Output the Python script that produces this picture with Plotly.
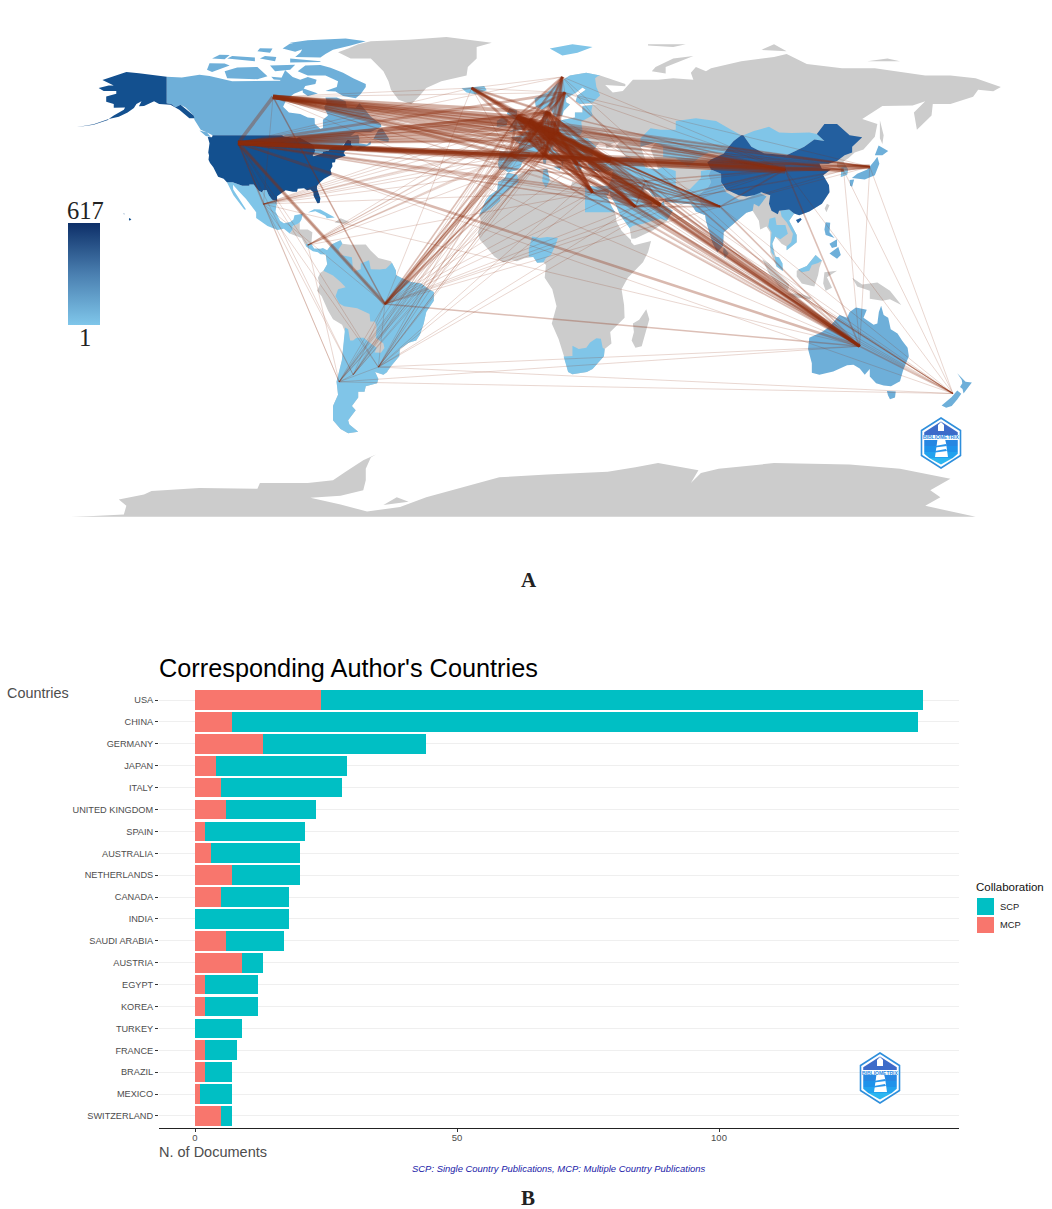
import itertools
import plotly.graph_objects as go

# ---- panel B data ----
countries = ['USA', 'CHINA', 'GERMANY', 'JAPAN', 'ITALY', 'UNITED KINGDOM', 'SPAIN', 'AUSTRALIA', 'NETHERLANDS',
             'CANADA', 'INDIA', 'SAUDI ARABIA', 'AUSTRIA', 'EGYPT', 'KOREA', 'TURKEY', 'FRANCE', 'BRAZIL',
             'MEXICO', 'SWITZERLAND']
mcp_docs = [24, 7, 13, 4, 5, 6, 2, 3, 7, 5, 0, 6, 9, 2, 2, 0, 2, 2, 1, 5]
scp_docs = [115, 131, 31, 25, 23, 17, 19, 17, 13, 13, 18, 11, 4, 10, 10, 9, 6, 5, 6, 2]

# ---- panel A outlines, (lon, lat) ----
usa_main = [(-124.7,48.4),(-123,48.3),(-122.8,49),(-95.2,49),(-94.6,48.7),(-92,48.3),(-89.6,48),(-88.4,48.3),(-84.9,46.9),(-84.5,46.5),(-83.5,46),(-82.5,45.3),(-82.1,43.6),(-82.5,42.6),(-83.1,42.1),(-82.7,41.7),(-79,42.8),(-79,43.3),(-76.8,43.6),(-76.3,44.2),(-75,45),(-71.5,45),(-70.8,45.4),(-70,46.7),(-69.2,47.45),(-68.3,47.35),(-67.8,47.1),(-67.8,45.7),(-67,44.9),(-69,44),(-70.2,43.6),(-70.8,42.8),(-70,41.8),(-71.4,41.4),(-74,40.6),(-74.2,39.6),(-75.4,39.4),(-75.2,38.2),(-76,36.9),(-75.5,35.3),(-77,34.6),(-78.5,33.8),(-80,32.6),(-81.3,31.3),(-81.4,30.4),(-80.5,28.4),(-80,26.8),(-80.3,25.3),(-81.2,25.2),(-81.8,26.2),(-82.7,27.8),(-82.8,29),(-84,30),(-85.3,29.7),(-86.5,30.4),(-89,30.3),(-89.3,29.2),(-91,29.2),(-93.8,29.7),(-95,29),(-97.2,27.6),(-97.2,25.95),(-99.2,26.4),(-100.5,28),(-101.4,29.8),(-102.7,29.7),(-103.2,29),(-104.5,29.6),(-106.5,31.75),(-108.2,31.78),(-108.2,31.33),(-111,31.33),(-114.8,32.5),(-117.1,32.5),(-118.4,33.8),(-120.6,34.5),(-121.9,36.6),(-122.5,37.8),(-123.8,39.3),(-124.4,40.4),(-124.2,42),(-124.5,43),(-124,46.2)]
alaska = [(-141,69.6),(-141,60.3),(-139,59.9),(-137.5,58.9),(-135.5,59.7),(-133.5,58.4),(-130.3,56),(-130,55),(-132,55),(-134,56.5),(-136,58),(-139.5,59.7),(-144,60),(-146,61),(-148,60),(-150,59.3),(-152,59.2),(-151,61),(-153,60),(-154,58.6),(-156.5,57),(-160,55.5),(-164,54.7),(-162,56),(-158,58),(-157.5,58.8),(-162,58.7),(-162,60),(-165,60.8),(-165,62.6),(-161,63.6),(-161,64.6),(-166,64.6),(-168,65.6),(-164,66.5),(-162,66.5),(-166.5,68.4),(-163,69.5),(-157,71.2),(-152,70.8),(-146,70.2)]
aleutians = [(-164,54.7),(-170,52.9),(-177,51.8),(-177,51.75),(-170,52.7),(-164.3,54.4)]
hawaii = [(-155.9,20),(-155,19.6),(-155.7,19),(-156,19.5)]
hawaii_west = [(-158.2,21.6),(-157.7,21.5),(-157.9,21.2)]
canada_main = [(-141,69.6),(-135,69.3),(-128,70.3),(-124,69.8),(-115,68),(-108,68),(-102,68),(-96,68.2),(-94,71.8),(-91,69.5),(-88,68.5),(-85,69.5),(-81.5,68.5),(-82,67),(-86,66.3),(-87,64.8),(-90.5,63.6),(-93.5,61.5),(-94.8,59),(-92.5,57),(-88,56.5),(-85,55.3),(-82.3,55),(-82.2,53),(-80,51.3),(-79,51.6),(-79,54.5),(-77,56),(-78.5,58.8),(-77.5,60.5),(-78,62.3),(-73.5,62.3),(-70,61),(-69.5,58.8),(-66,58.7),(-64.5,60.3),(-61.8,57.5),(-60,55.5),(-56,53),(-55.8,52),(-60,50.2),(-66,50.2),(-68,48.8),(-65,49.2),(-64.5,47.8),(-64.7,46.2),(-61.5,45.8),(-60,46.9),(-60,45.9),(-65.5,43.6),(-66.2,44.3),(-64.5,45.3),(-67,45),(-67.8,45.7),(-67.8,47.1),(-69.2,47.45),(-70,46.7),(-71.5,45),(-75,45),(-76.8,43.6),(-79,43.3),(-79,42.8),(-83,42),(-82.1,43.6),(-82.5,45.3),(-84.5,46.5),(-88.4,48.3),(-92,48.3),(-95.2,49),(-122.8,49),(-125,50),(-127.5,51),(-130,54.5),(-130,55),(-130.3,56),(-133.5,58.8),(-135.5,59.7),(-137.5,58.9),(-139,59.9),(-141,60.3)]
baffin = [(-62,66),(-64,63.5),(-66,62),(-71,62.8),(-74,64.4),(-78,64.6),(-73.5,66),(-73,68),(-78,70),(-85,70),(-89,71.5),(-86,73.5),(-80,73.7),(-76,72.7),(-71,71),(-67,69),(-62,67)]
victoria_isl = [(-117,69),(-105,68.7),(-101,69.7),(-105,73),(-113,72.8),(-118,71.5)]
banks_isl = [(-125,72),(-123,71.2),(-119,72.5),(-116,73.5),(-118,74.2),(-124,74.3)]
ellesmere = [(-90,76.5),(-80,76.3),(-78,77.5),(-75,79),(-68,80.5),(-62,82),(-70,83),(-85,82.4),(-92,81.5),(-87,79.5),(-88,78)]
devon_isl = [(-92,76),(-80,75),(-80,74.7),(-92,74.6)]
melville_isl = [(-117,76),(-106,75),(-106,76.3),(-115,76.8)]
prince_patrick = [(-123,76),(-118,75.7),(-116,77.2),(-120,77.3)]
bathurst_isl = [(-104,76),(-98,75),(-97.5,76.5),(-102,76.8)]
ringnes_isl = [(-105,78.5),(-100,78),(-99,79.5),(-104,79.6)]
somerset_isl = [(-100,73.5),(-90,73.8),(-92,72),(-98,71.5)]
king_william = [(-99.5,69.6),(-95,69.2),(-95.5,68.4),(-98.5,68.6)]
southampton_isl = [(-87,65.5),(-81,63.7),(-85,62.8),(-87,64)]
newfoundland = [(-59,47.7),(-53,46.7),(-52.8,47.8),(-55.5,51.5),(-57,51)]
axel_isl = [(-95,79.5),(-90,78.3),(-85,79.8),(-92,81.2)]
vancouver_isl = [(-128,50.7),(-125,50),(-123.5,48.4),(-125.5,48.8)]
greenland = [(-73,78.2),(-68,76),(-60,76),(-55,71.5),(-53,68),(-52,65),(-49,61.5),(-44,59.9),(-41,62.5),(-38,65.6),(-32,68),(-22,70),(-21.5,73),(-18,76),(-18,80),(-12,81.5),(-30,83.5),(-45,82.5),(-60,82),(-65,81),(-69,79.5)]
mexico = [(-117.1,32.5),(-114.8,32.5),(-111,31.33),(-108.2,31.33),(-108.2,31.78),(-106.5,31.75),(-104.5,29.6),(-103.2,29),(-102.7,29.7),(-101.4,29.8),(-100.5,28),(-99.2,26.4),(-97.2,25.95),(-97.8,22.3),(-96,19),(-94.5,18.2),(-92,18.6),(-90.7,19.5),(-90.3,21),(-87,21.5),(-87.5,19.5),(-88.2,18.4),(-89.1,17.9),(-91,17.2),(-91,16),(-92.2,14.6),(-94.5,16.2),(-97,15.8),(-101,17.2),(-105.5,20),(-105.5,22),(-108,25),(-109.5,26.7),(-112.5,29.5),(-114.7,31.7),(-114.6,30),(-112,26.5),(-110,24),(-109.5,23),(-110.2,23),(-112.3,25.5),(-114.5,28),(-115.8,30.3)]
central_america = [(-92.2,14.6),(-91,16),(-91,17.2),(-89.1,17.9),(-88.2,18.4),(-88.2,16),(-85,16),(-83.2,15),(-83.6,11),(-85.7,11),(-85.7,10),(-87.5,13),(-90,13.8)]
costa_panama = [(-83.6,11),(-82.5,9.3),(-80,9.2),(-79,9.5),(-77.3,8.7),(-77.9,7.2),(-80,7.3),(-81,8),(-83,8.3),(-85.7,10),(-85.7,11)]
cuba = [(-84.9,21.9),(-82.5,23.1),(-80,23),(-75,20.7),(-74.3,20.2),(-77.5,19.9),(-78,20.7),(-82,22.4)]
hispaniola = [(-74.4,18.4),(-72,19.9),(-68.4,18.6),(-71,18)]
south_america = [(-77.3,8.7),(-75.6,10.7),(-72,12.2),(-71.3,11),(-68,10.6),(-62,10.7),(-60,8.5),(-57,6),(-52,4.8),(-50,1.5),(-50,0),(-48,-1),(-44,-2.5),(-40,-3),(-37,-5),(-35,-6),(-35,-9),(-38,-13),(-39,-17),(-40.5,-21),(-42,-23),(-45,-23.8),(-48.5,-26),(-48.7,-28.5),(-52,-32),(-53.5,-34),(-55,-35),(-58.3,-34),(-57,-36.5),(-57.5,-38),(-62,-39),(-62.5,-41),(-65,-41),(-65,-43),(-67.5,-46),(-66,-47.5),(-69,-51),(-68.5,-52.5),(-65,-55),(-69,-55.5),(-72,-54),(-75,-51),(-75,-46),(-73,-42),(-73.6,-37.5),(-71.5,-30),(-70.2,-20),(-71.4,-17.5),(-75,-15.5),(-77,-12.5),(-79.5,-7.5),(-81.3,-5.5),(-80.3,-3.4),(-81,-1),(-80,0.8),(-78.8,1.5),(-77.3,3.8),(-77.5,6),(-77.9,7.2)]
brazil = [(-51.6,4.3),(-50,1.5),(-50,0),(-48,-1),(-44,-2.5),(-40,-3),(-37,-5),(-35,-6),(-35,-9),(-38,-13),(-39,-17),(-40.5,-21),(-42,-23),(-45,-23.8),(-48.5,-26),(-48.7,-28.5),(-52,-32),(-53.4,-33.7),(-53.2,-32.5),(-57.6,-30.2),(-53.8,-27),(-54.6,-25.6),(-55,-24),(-58,-22),(-57.7,-18),(-58.4,-16.3),(-60.2,-16.3),(-60.5,-13.7),(-65.4,-11.7),(-69.5,-11),(-70.6,-11),(-72.5,-10),(-74,-7.5),(-73,-5),(-70,-4.3),(-69.5,-1),(-70,1.7),(-67,1.2),(-64,2),(-64,4),(-60.7,5.2),(-60,2),(-56.5,1.9),(-54,2.2)]
colombia = [(-77.3,8.7),(-75.6,10.7),(-72,12.2),(-71.3,11),(-72.8,9),(-72,7),(-67.5,6.2),(-67,1.2),(-70,1.7),(-69.5,-1),(-70,-4.3),(-72,-2.5),(-75,-0.2),(-78.8,1.5),(-77.3,3.8),(-77.5,6),(-77.9,7.2)]
southern_cone = [(-70.2,-18.4),(-69,-19),(-68.2,-23),(-67,-23),(-65.7,-22),(-62.8,-22),(-60,-24),(-57.7,-25.5),(-58.5,-27.2),(-56,-27.3),(-54.6,-25.6),(-53.8,-27),(-57.6,-30.2),(-53.2,-32.5),(-53.5,-34),(-55,-35),(-58.3,-34),(-57,-36.5),(-57.5,-38),(-62,-39),(-62.5,-41),(-65,-41),(-65,-43),(-67.5,-46),(-66,-47.5),(-69,-51),(-68.5,-52.5),(-65,-55),(-69,-55.5),(-72,-54),(-75,-51),(-75,-46),(-73,-42),(-73.6,-37.5),(-71.5,-30),(-70.2,-20)]
africa = [(-5.9,35.8),(-2,35.2),(3,36.8),(10,37.3),(11,33.3),(15,32.4),(19,30.3),(20,32.7),(25,31.6),(29,31),(32.3,31.2),(34.2,31.3),(32.6,29.9),(34,27),(35.5,24),(37.2,21),(37.5,18.7),(39.5,15.5),(43.2,12.3),(43.3,11.5),(44.5,10.4),(51.2,11.9),(50,8),(48,4.5),(42,-1),(39.5,-5),(40.5,-10.5),(40.7,-15),(35,-20),(35.5,-24),(32.8,-26),(32.5,-28.5),(28,-33),(25.7,-34),(20,-34.8),(18.3,-34),(17,-29.5),(14.5,-22.5),(11.8,-17),(13.7,-11),(12,-5),(9,-1),(9.5,3.5),(8.5,4.5),(6,4.3),(4.5,6.3),(1,5.9),(-2,4.8),(-4,5.2),(-7.5,4.4),(-11,6.5),(-13.3,9),(-16.7,12.4),(-17.5,14.7),(-16.3,19),(-17,21),(-14.5,26),(-13,27.8),(-9.8,29.8),(-9.5,32.5),(-6.8,34)]
madagascar = [(49.3,-12),(50.5,-15.5),(47.5,-25),(45,-25.5),(43.5,-23),(44.4,-20),(44,-17),(46.5,-15.7)]
egypt = [(25,31.6),(29,31),(32.3,31.2),(34.2,31.3),(34.9,29.5),(34,27.9),(33,28.5),(34,27),(35.5,24),(37,22),(25,22)]
nigeria = [(2.7,6.4),(4.5,6.3),(6,4.3),(8.5,4.5),(9.5,6),(11.5,7),(13.5,11),(14.2,13),(10,13.3),(7,13),(4,13.5),(3.6,11.7),(2.7,9)]
south_africa = [(16.5,-28.6),(20,-28.4),(20,-24.8),(22.5,-26),(25.5,-25.5),(27,-23.7),(29.5,-22.2),(31.3,-22.4),(32,-25.5),(32.8,-26),(32.5,-28.5),(28,-33),(25.7,-34),(20,-34.8),(18.3,-34),(17,-29.5)]
morocco = [(-5.9,35.8),(-2,35.2),(-1.2,32.5),(-5,30),(-8.7,27.7),(-8.7,26),(-13,23),(-17,21),(-14.5,26),(-13,27.8),(-9.8,29.8),(-9.5,32.5),(-6.8,34)]
tunisia = [(8.5,37),(10,37.3),(11,33.3),(9.5,30.5),(8,33)]
eurasia = [(-9,37),(-9.5,38.8),(-8.8,43.3),(-1.8,43.4),(-1,46),(-4.5,48.3),(-1.5,48.7),(1.5,50.5),(3.5,51.4),(4.8,53),(8,53.6),(8.5,57),(10.6,57.7),(10.2,55),(11,54),(14,54),(18.5,54.8),(21,55.3),(21,57),(24,57),(24,59.3),(28,59.6),(30,60),(23,60),(21.3,61),(22,63),(25.3,65),(24,65.8),(21.5,64),(17.5,62),(17.5,60.6),(19,59.8),(16.5,57.5),(16,56),(13,55.4),(11.5,58),(10.5,59.3),(8,58),(5.5,59),(5,62),(10,64),(14.5,67.5),(19,70),(25.5,71),(31,70),(41,67),(41,66.2),(33,66.7),(36,64),(40,64.6),(44,68.5),(54,68.5),(60,69),(68,68.5),(67,71),(69,73),(73,71.5),(75,72.5),(80,73.5),(87,75),(100,76.5),(105,77.5),(113,74),(127,72.5),(140,72.5),(160,70),(170,70),(180,69),(190,66),(187,64.5),(181,65),(179,62.5),(170,60),(163,60),(162.5,56),(156.7,51),(155.5,57),(160,61),(155,59.5),(143,59.3),(135,54.7),(141,53),(140,48.5),(135.5,44),(132,43),(129.5,41),(127.5,39.8),(129.4,37),(129,35.2),(126.5,34.4),(126.7,37),(125,38),(125,39.6),(121.5,39),(118,39),(119,37.3),(122.5,37),(119.5,35),(121.8,31.5),(122,29),(119,25),(114,22.3),(110,21),(108,21.6),(106,19),(109,14),(109,11.5),(105,8.7),(105,10),(103,11),(100.5,13.5),(99.3,11),(100.5,7),(103.5,1.4),(101,3),(98.5,8),(98.5,15),(97,17),(94.5,16),(94,19),(91.5,22.5),(89,21.8),(86.5,20),(82,16.5),(80,15),(79.8,10.3),(77.5,8),(75.5,11.5),(73,19),(72.7,21),(69,22.3),(67,24.8),(61.5,25.2),(57,25.7),(56.5,27),(52,27.5),(50,30),(48,30),(50,26.5),(51.5,25.5),(51.5,24.2),(54,24.2),(56.3,26),(56.5,24.5),(59.8,22.5),(57.5,19),(55,17.5),(52,15.7),(45,12.8),(43.4,12.7),(42.7,16.5),(39,21),(37,25),(35,28),(34.9,29.5),(34.2,31.3),(35.5,33.5),(36,36.7),(32,36.1),(28,36.7),(26.3,38.5),(26.3,40),(29,41),(33,42),(38,41),(41.5,41.5),(37,45),(39,47),(35,46),(36.5,45.2),(33.5,44.5),(33,46),(30.7,46.5),(28,43.5),(28,41.7),(26.2,40.8),(23.5,40.3),(22.8,39.5),(24,38),(23,36.5),(21.5,37),(20,39.7),(19.3,41.8),(15,44),(13.7,45.5),(12.3,45),(12.5,44),(16,41.8),(18.4,40),(16.5,40),(16,38),(15.6,40),(12.5,41.5),(10.5,43),(8.5,44.4),(6,43),(3.2,43),(3,41.8),(0,39.5),(-0.5,38),(-2,36.8),(-5.5,36),(-7,37)]
caspian = [(47,45),(53,46.5),(51,44),(53,40),(54,37),(50,37.3),(49,40.5)]
aral = [(58.5,46),(61,46),(60,44),(58.5,44)]
scandinavia = [(30,69.7),(31,70),(25.5,71),(19,70),(14.5,67.5),(10,64),(5,62),(5.5,59),(8,58),(10.5,59.3),(11.5,58),(13,55.4),(16,56),(16.5,57.5),(19,59.8),(17.5,60.6),(17.5,62),(21.5,64),(24,65.8),(25.3,65),(22,63),(21.3,61),(23,60),(28,60.5),(31,63),(29.5,66),(29,69)]
west_europe = [(-9,37),(-9.5,38.8),(-8.8,43.3),(-1.8,43.4),(-1,46),(-4.5,48.3),(-1.5,48.7),(1.5,50.5),(3.5,51.4),(4.8,53),(8,53.6),(8.5,57),(10.6,57.7),(10.2,55),(11,54),(14,54),(18.5,54.8),(21,55.3),(21,57),(24,57),(24,59.3),(28,59.6),(27.5,57.5),(28,56),(23.5,53.9),(24,50.5),(22.5,48.3),(26,48),(29.4,45),(28,43.5),(28,41.7),(26.2,40.8),(23.5,40.3),(22.8,39.5),(24,38),(23,36.5),(21.5,37),(20,39.7),(19.3,41.8),(15,44),(13.7,45.5),(12.3,45),(12.5,44),(16,41.8),(18.4,40),(16.5,40),(16,38),(15.6,40),(12.5,41.5),(10.5,43),(8.5,44.4),(6,43),(3.2,43),(3,41.8),(0,39.5),(-0.5,38),(-2,36.8),(-5.5,36),(-7,37)]
britain = [(-5.5,50),(1.5,51.2),(1.5,52.8),(0,53.5),(-2,56),(-2,57.7),(-5,58.6),(-6,56.5),(-3,54.5),(-5,52),(-3,51.4)]
ireland = [(-10,52),(-6.2,52.2),(-5.6,54.6),(-8,55.3),(-10,54)]
iceland = [(-24,65.5),(-22,64),(-18.5,63.4),(-14,64.8),(-15,66.3),(-20,66)]
svalbard = [(11,79.5),(16,77),(22,78),(28,80),(20,81)]
sicily = [(12.5,38),(15.6,38.2),(15,36.7)]
sardinia = [(8.2,41),(9.7,41),(9.5,39),(8.5,39)]
turkey = [(26.3,38.5),(26.3,40),(29,41),(33,42),(38,41),(41.5,41.5),(43.5,41),(44.5,39.7),(44.5,37.2),(42,37.2),(36.5,36.6),(36,36.7),(32,36.1),(28,36.7)]
iran = [(44.5,39.7),(48,39.5),(49,37.5),(54,37),(56,38),(61,36.5),(61,31.5),(63,27),(61.5,25.2),(57,25.7),(56.5,27),(52,27.5),(50,30),(48,30),(46,33),(45,36),(44.5,37.2)]
iraq_levant = [(36,36.7),(36.5,36.6),(42,37.2),(44.5,37.2),(45,36),(46,33),(48,30),(47,29),(44,29),(39,32),(34.9,29.5),(34.2,31.3),(35.5,33.5)]
saudi = [(34.9,29.5),(39,32),(44,29),(47,29),(48,30),(50,26.5),(51.5,25.5),(51.5,24.2),(54,24.2),(56.3,26),(56.5,24.5),(59.8,22.5),(57.5,19),(55,19.7),(52,19),(48,18),(44,17.3),(42.7,16.5),(39,21),(37,25),(35,28)]
kazakhstan = [(47,45),(47,48),(51,51.5),(55,51),(61,51),(61,54),(69,55),(77,54),(83,51),(87,49),(84,47),(82,45),(80,42.5),(74,43),(70,41),(66,38),(61,41),(56,41.3),(56,45),(53,46.5)]
mongolia = [(87.8,49),(92,50.5),(98,52),(102,50),(107,49.8),(114,50),(117,49.5),(120,47),(116,47.5),(112,45),(105,42),(96,42.7),(91,45)]
china = [(73.5,39.5),(75,40.5),(80,42.5),(82,45),(84,47),(87,49),(87.8,49),(91,45),(96,42.7),(105,42),(112,45),(116,47.5),(120,47),(117,49.5),(120,53),(125,53),(130,49),(135,48.3),(131,45),(131,43),(128,42),(125,40),(121.5,39),(118,39),(119,37.3),(122.5,37),(119.5,35),(121.8,31.5),(122,29),(119,25),(114,22.3),(110,21),(108,21.6),(106,23),(102,22.5),(101.5,21.3),(99,22.5),(98,25),(98.5,28),(95,29),(92,28),(89,27.5),(86,28),(81,30),(79,32.5),(79,35.5),(75,37)]
hainan = [(108.7,19.3),(110.5,20),(111,19.5),(109.5,18.2)]
pakistan = [(61,31.5),(63,27),(61.5,25.2),(67,24.8),(68,23.7),(71,24.5),(70,28),(74,31),(75,32.5),(74,35),(75,37),(71,36.5),(71,34),(66.5,30),(63,29.5)]
india = [(68,23.7),(69,22.3),(72.7,21),(73,19),(75.5,11.5),(77.5,8),(79.8,10.3),(80,15),(82,16.5),(86.5,20),(89,21.8),(91.5,22.5),(92,25),(94,24),(97,27.5),(94,29),(92,28),(88,26.5),(86,26.5),(81,29),(79,32.5),(79,35.5),(75,37),(74,35),(75,32.5),(74,31),(70,28),(71,24.5)]
sri_lanka = [(80,9.8),(82,7.5),(80.5,6),(79.8,8)]
thailand = [(98.2,19.7),(100.5,20.3),(101,17.5),(104.5,17.5),(105.5,14.5),(102.5,12.5),(100.5,13.5),(99.3,11),(100.2,6.5),(99,8),(98.5,10),(99,15),(97.7,17)]
vietnam = [(102.5,22.5),(106,23),(108,21.6),(106,19),(109,14),(109,11.5),(105,8.7),(105,10),(106.8,11.5),(107.5,14.5),(105,18.5),(103,20.5)]
malaya = [(100.2,6.5),(102,6.2),(103.4,4),(103.5,1.4),(101,3)]
south_korea = [(126.5,34.4),(129,35.2),(129.4,37),(128.3,38.5),(126.7,37.8)]
novaya_zemlya = [(51.5,71.5),(57,70.7),(57,73),(68,76.8),(60,76),(53,73)]
severnaya = [(95,79),(105,78.5),(100,81)]
new_siberian = [(137,75),(150,75),(145,76)]
franz_josef = [(50,80.5),(60,80),(65,81),(50,81)]
sakhalin = [(142,54.3),(143.5,49),(143,46),(142,48)]
honshu = [(130.9,34),(136,33.5),(140,35),(141.8,39),(141,41.5),(139.8,40),(137,37),(133,35.5)]
hokkaido = [(140,42),(141.5,45.4),(145.3,43.5),(143,42)]
kyushu = [(130,33.3),(131.8,33.5),(131,31),(130.2,31.3)]
taiwan = [(121,25),(122,24.5),(120.8,22),(120.1,23.3)]
luzon = [(120.5,18.5),(122.3,18.3),(122,15),(124,13),(120.5,14),(120,16)]
mindanao = [(122,7.5),(125.5,9.8),(126.5,7),(125,5.7)]
visayas = [(122,11),(125,12.5),(125,10),(123,9.5)]
borneo = [(109,1.5),(113,3.2),(116.5,7),(119,5),(118,2.5),(117.5,0),(116,-4),(111,-3),(109,-0.5)]
malay_borneo = [(109.6,1.9),(113,3.2),(116.5,7),(119,5),(117.5,4.2),(115,3.5),(114,1.5),(111,1)]
sumatra = [(95.3,5.5),(98,4),(104,-1.5),(106,-3.3),(105.5,-5.8),(102,-4),(98,0.5)]
java = [(105.3,-6.5),(110,-6.5),(114.5,-7.8),(114.5,-8.6),(108,-7.8)]
sulawesi = [(120,1),(125,1.5),(121,-0.8),(123,-4.5),(120.5,-5.5),(119.5,-3)]
new_guinea = [(131,-1),(135,-3.3),(141,-2.6),(146,-5.5),(150.5,-10.5),(146,-8.5),(143,-9),(138,-8.3),(138,-5.5),(133,-4)]
australia = [(114,-22),(113.5,-26),(115,-31),(115,-34.3),(118,-35),(123.5,-33.9),(129,-31.7),(131.5,-31.5),(134,-32.8),(136,-35),(138,-33),(138,-35.6),(140.5,-38),(143.5,-38.8),(146.4,-39),(150,-37.3),(151.2,-33.5),(153.5,-28.5),(153,-25.5),(150.8,-23),(149,-20.5),(146.3,-19),(145.3,-15),(143.5,-14),(142.5,-10.8),(141.6,-13),(141,-17),(139.5,-17.5),(135.5,-15),(136.8,-12.2),(132.5,-11.4),(130,-13),(129,-15),(126,-14),(122.2,-18),(119,-20)]
tasmania = [(144.8,-40.7),(148.3,-40.9),(148,-43),(146,-43.6),(145.2,-42.2)]
nz_north = [(172.7,-34.5),(174.5,-36),(176,-37.5),(178.5,-37.7),(177,-39.5),(176,-41),(175.2,-41.6),(174.8,-40),(173.8,-39.3),(174.7,-38),(174.5,-36.8)]
nz_south = [(172.7,-40.5),(174.3,-41.7),(172.7,-43.7),(170.5,-46),(168.3,-46.6),(166.5,-45.8),(170.5,-42.8)]
antarctica = [(-179,-84.8),(-170,-84.6),(-158,-84),(-157,-81),(-160,-78.8),(-150,-77),(-147,-75.8),(-128,-74.7),(-105,-75),(-104,-73),(-85,-73),(-75,-72),(-70,-69),(-63,-65),(-58,-63),(-60,-64),(-62,-68),(-62,-72),(-63,-75.5),(-72,-77.5),(-84,-78.2),(-72,-80.5),(-61.5,-83),(-48.4,-81.4),(-38,-78),(-26,-75),(-14,-72),(-9,-71),(10,-70),(34,-69),(45,-67.5),(54,-66),(70,-68.5),(67,-73),(71,-69.5),(78,-68),(100,-66),(130,-66.5),(150,-68),(170,-71.5),(162,-75.5),(166,-78),(160,-81),(180,-84.8)]
berkner_isl = [(-55,-80.7),(-49.7,-78),(-45,-79.6)]

grey_land = [greenland, central_america, hispaniola, south_america, africa, madagascar, eurasia,
             novaya_zemlya, severnaya, new_siberian, franz_josef, sakhalin, taiwan, borneo, sumatra, java,
             sulawesi, new_guinea, antarctica, berkner_isl]
water = [caspian, aral]
light_blue = [mexico, costa_panama, cuba, brazil, colombia, southern_cone, egypt, nigeria, south_africa, morocco,
              tunisia, scandinavia, west_europe, britain, ireland, iceland, svalbard, sicily, sardinia, turkey, iran,
              iraq_levant, saudi, kazakhstan, mongolia, pakistan, sri_lanka, thailand, vietnam, malaya, malay_borneo,
              south_korea]
mid_blue = [canada_main, baffin, victoria_isl, banks_isl, ellesmere, devon_isl, melville_isl, prince_patrick,
            bathurst_isl, ringnes_isl, somerset_isl, king_william, southampton_isl, newfoundland, axel_isl,
            vancouver_isl, india, honshu, hokkaido, kyushu, luzon, mindanao, visayas, australia, tasmania, nz_north,
            nz_south]
usa_shapes = [usa_main, alaska, aleutians, hawaii, hawaii_west]
china_shapes = [china, hainan]

# ---- collaboration network ----
node_names = ['USA', 'Canada', 'Mexico', 'Costa Rica', 'Brazil', 'Chile', 'Argentina', 'Uruguay', 'Iceland', 'Norway',
              'Sweden', 'UK', 'Denmark', 'Netherlands', 'Germany', 'Poland', 'France', 'Spain', 'Italy', 'Austria',
              'Greece', 'Turkey', 'Egypt', 'Saudi Arabia', 'Iran', 'UAE', 'India', 'China', 'Korea', 'Japan',
              'Australia', 'New Zealand']
node_lon = [-112.6, -98.8, -102.6, -85, -54.4, -72.6, -67, -57, -20, 16, 17, -2, 10.3, 3, 7, 14, 3, -4.8, 9, 12,
            22, 35, 28, 45, 49, 55, 78.6, 104.4, 127.6, 138, 134, 171]
node_lat = [46.3, 62.5, 24.9, 10.5, -10.2, -37.5, -35, -32.3, 65.6, 69.5, 64, 55.4, 57, 54, 52, 50, 47, 42, 42, 48,
            39, 40, 29, 24, 33, 24.5, 24, 37, 36.8, 38, -25, -41.6]

europe_core = ['UK', 'Netherlands', 'Germany', 'Poland', 'Austria', 'Italy', 'Denmark']
europe_outer = ['France', 'Spain', 'Sweden', 'Norway', 'Greece', 'Iceland']
gulf = ['Turkey', 'Egypt', 'Saudi Arabia', 'Iran', 'UAE']

# hub, partners, weight
link_groups = [
    ('USA', ['China'], 5),
    ('USA', ['Germany', 'UK', 'Italy', 'Netherlands', 'Turkey'], 5),
    ('USA', ['Japan', 'Korea', 'Spain', 'Canada', 'Poland', 'Austria'], 4),
    ('USA', ['Australia', 'Denmark', 'France', 'Sweden', 'Greece'], 3),
    ('USA', ['Mexico', 'Brazil', 'Saudi Arabia', 'India', 'Iran', 'Egypt'], 2),
    ('USA', ['Chile', 'Argentina', 'UAE', 'Norway', 'Costa Rica', 'Iceland', 'New Zealand', 'Uruguay'], 1),
    ('Canada', ['Germany', 'UK', 'Netherlands'], 5),
    ('Canada', ['Italy', 'Spain', 'France', 'Austria', 'Denmark', 'Poland'], 4),
    ('Canada', ['China', 'Turkey', 'Greece'], 2),
    ('Canada', ['Brazil', 'Mexico', 'Japan', 'Australia', 'Sweden', 'Saudi Arabia', 'India', 'Iran', 'Egypt',
                'Iceland', 'Korea'], 1),
    ('China', ['Japan'], 5),
    ('China', ['Turkey'], 7),
    ('China', ['Germany', 'Korea', 'UK', 'Italy', 'Netherlands'], 3),
    ('China', ['Saudi Arabia', 'India', 'Iran', 'Australia', 'Austria', 'Poland', 'France', 'Spain', 'Denmark'], 2),
    ('China', ['Egypt', 'UAE', 'Sweden', 'Norway', 'Greece', 'Brazil'], 1),
    ('Japan', ['Germany', 'UK', 'Italy', 'Netherlands', 'Korea'], 2),
    ('Japan', ['Australia', 'Poland', 'Austria', 'Spain', 'France', 'Turkey', 'India', 'Saudi Arabia', 'Sweden'], 1),
    ('Korea', ['Germany', 'UK', 'Australia', 'Spain', 'India', 'Saudi Arabia'], 1),
    ('Turkey', ['Germany', 'Poland', 'Austria', 'Italy', 'UK', 'Netherlands'], 4),
    ('UAE', ['Germany', 'Poland', 'Austria', 'Italy', 'UK', 'Netherlands', 'Denmark'], 4),
    ('UAE', ['Saudi Arabia', 'Egypt', 'Iran', 'Turkey', 'Greece', 'France', 'Spain'], 2),
    ('Saudi Arabia', ['Germany', 'UK', 'Italy', 'Egypt', 'Poland', 'Iran', 'India', 'Spain'], 2),
    ('Egypt', ['Germany', 'UK', 'Italy', 'Austria', 'Poland', 'Netherlands', 'India', 'Iran', 'Greece'], 2),
    ('India', ['Germany', 'UK', 'Netherlands', 'Italy', 'Austria', 'Iran', 'Spain', 'France'], 2),
    ('Australia', ['UAE'], 4),
    ('Australia', ['Germany', 'UK', 'Netherlands', 'Italy', 'Austria', 'Poland', 'Saudi Arabia', 'Turkey'], 3),
    ('Australia', ['Denmark', 'France', 'Spain', 'Sweden', 'Iran', 'Egypt', 'India', 'New Zealand', 'Brazil'], 2),
    ('Australia', ['Norway', 'Greece', 'Mexico', 'Chile'], 1),
    ('New Zealand', ['Germany', 'UK', 'Netherlands', 'Italy', 'Austria', 'Denmark', 'Spain', 'Poland', 'UAE', 'Egypt',
                     'China', 'Japan', 'Korea', 'Chile', 'Uruguay', 'India'], 1),
    ('Brazil', ['Germany', 'USA'], 4),
    ('Brazil', ['UK', 'Netherlands', 'Italy', 'Spain', 'Austria', 'Canada', 'Poland'], 2),
    ('Brazil', ['Argentina', 'Chile', 'Uruguay', 'Mexico', 'France', 'Denmark', 'Sweden', 'Norway', 'Turkey', 'Egypt',
                'Saudi Arabia', 'Iran', 'UAE', 'India', 'Greece', 'Iceland'], 1),
    ('Uruguay', ['Germany', 'UK', 'Netherlands', 'Italy', 'Spain', 'Poland', 'Austria', 'Egypt', 'Turkey', 'Saudi Arabia',
                 'Mexico', 'Chile', 'UAE', 'Australia'], 1),
    ('Argentina', ['Germany', 'UK', 'Spain', 'Italy', 'Mexico', 'Chile', 'Poland', 'Netherlands'], 1),
    ('Chile', ['Germany', 'UK', 'Spain', 'Italy', 'Mexico', 'Costa Rica', 'Austria', 'Netherlands'], 1),
    ('Mexico', ['Germany', 'UK', 'Spain', 'Italy', 'Netherlands', 'Poland', 'France', 'Austria', 'Turkey', 'Egypt'], 1),
    ('Costa Rica', ['Germany', 'UK', 'Netherlands', 'Spain', 'Italy', 'Poland', 'Austria', 'Denmark', 'Egypt'], 1),
    ('Iceland', ['UK', 'Germany', 'Netherlands', 'Denmark', 'Poland', 'Italy', 'Spain', 'Sweden', 'Norway'], 1),
    ('Sweden', ['UK', 'Germany', 'Netherlands', 'Denmark', 'Poland', 'Norway', 'Italy', 'Spain'], 1),
    ('Norway', ['UK', 'Germany', 'Netherlands', 'Denmark', 'Poland', 'Italy', 'Iran'], 1),
]
link_groups += [(a, [b], 5) for a, b in itertools.combinations(europe_core, 2)]
link_groups += [(a, europe_outer + gulf[:3], 3) for a in europe_core]
link_groups += [(a, ['India'], 1) for a in europe_core]

# width and alpha for each link weight
weight_width = {1: 0.8, 2: 1.6, 3: 2.6, 4: 3.6, 5: 4.6, 7: 8}
weight_alpha = {1: 0.24, 2: 0.3, 3: 0.33, 4: 0.36, 5: 0.42, 7: 0.5}

fig = go.Figure()


def add_land(shapes, colour):
    xs, ys = [], []
    for shape in shapes:
        xs += [p[0] for p in shape] + [shape[0][0], None]
        ys += [p[1] for p in shape] + [shape[0][1], None]
    fig.add_trace(go.Scatter(x=xs, y=ys, mode='lines', fill='toself', fillcolor=colour, line=dict(width=0, color=colour),
                             xaxis='x2', yaxis='y2', hoverinfo='skip', showlegend=False))


add_land(grey_land, '#cccccc')
add_land(water, '#ffffff')
add_land(light_blue, '#80c5e8')
add_land(mid_blue, '#6eafd9')
add_land(china_shapes, '#235f9f')
add_land(usa_shapes, '#13508f')

node_pos = dict(zip(node_names, zip(node_lon, node_lat)))
link_xy = {w: ([], []) for w in weight_width}
for hub, partners, weight in link_groups:
    for other in partners:
        link_xy[weight][0].extend([node_pos[hub][0], node_pos[other][0], None])
        link_xy[weight][1].extend([node_pos[hub][1], node_pos[other][1], None])
for weight in sorted(link_xy):
    fig.add_trace(go.Scatter(x=link_xy[weight][0], y=link_xy[weight][1], mode='lines',
                             line=dict(width=weight_width[weight], color='rgba(139,44,12,%s)' % weight_alpha[weight]),
                             xaxis='x2', yaxis='y2', hoverinfo='skip', showlegend=False))

# hidden trace that only carries the colour bar of panel A
fig.add_trace(go.Scatter(x=[-300, -300], y=[0, 0], mode='markers', xaxis='x2', yaxis='y2', hoverinfo='skip',
                         showlegend=False,
                         marker=dict(color=[1, 617], cmin=1, cmax=617,
                                     colorscale=[[0, '#7fc6ea'], [0.5, '#4a7fb0'], [1, '#0d2f68']],
                                     colorbar=dict(x=68/1052, xanchor='left', y=1-223/1209, yanchor='top',
                                                   lenmode='pixels', len=102, thicknessmode='pixels', thickness=32,
                                                   xpad=0, ypad=0, outlinewidth=0, showticklabels=False, ticks=''))))

fig.add_trace(go.Bar(y=countries, x=mcp_docs, name='MCP', orientation='h', marker=dict(color='#f8766d', line_width=0),
                     width=0.9, showlegend=False))
fig.add_trace(go.Bar(y=countries, x=scp_docs, name='SCP', orientation='h', marker=dict(color='#00bfc4', line_width=0),
                     width=0.9, showlegend=False))


def sx(v):
    return v / 1052


def sy(v):
    return 1 - v / 1209


def note(text, x, y, size, colour='#4d4d4d', family='Liberation Sans', anchor='left'):
    return dict(text=text, x=sx(x), y=sy(y), xref='paper', yref='paper', showarrow=False, xanchor=anchor,
                yanchor='middle', font=dict(size=size, color=colour, family=family))


def poly_path(points):
    return 'M' + 'L'.join('%.5f,%.5f' % (sx(a), sy(b)) for a, b in points) + 'Z'


def poly_shape(points, fill, edge=None, edge_width=0):
    return dict(type='path', xref='paper', yref='paper', path=poly_path(points), fillcolor=fill,
                line=dict(color=edge or fill, width=edge_width), layer='above')


def logo(cx, cy):
    w, h, c = 19.5, 25, 12.5
    hexagon = [(0, -h), (w, -c), (w, c), (0, h), (-w, c), (-w, -c)]
    out = [poly_shape([(cx + a, cy + b) for a, b in hexagon], '#ffffff', '#2f8fdc', 1.6)]

    def half(y, s):
        # half width of the hexagon scaled by s at height y
        return min(w * s, (h * s - abs(y)) * w / (h * s - c * s))

    s = 0.86
    bands = [(-21.5, -8, '#3d6bc9'), (-3, 3, '#2787e2'), (3, 9, '#1f92ea'), (9, 15, '#22a2ee'), (15, 21.5, '#2db6f0')]
    for top, bottom, colour in bands:
        ys = sorted(set([top, bottom] + [v for v in (-c * s, c * s) if top < v < bottom]))
        pts = [(cx + half(v, s), cy + v) for v in ys] + [(cx - half(v, s), cy + v) for v in reversed(ys)]
        out.append(poly_shape(pts, colour))
    tower = [(-3, -8), (3, -8), (5, 0), (7, 14), (-6, 14), (-4, 0)]
    out.append(poly_shape([(cx + a, cy + b) for a, b in tower], '#ffffff'))
    for b in (3, 8):
        out.append(poly_shape([(cx - 6, cy + b), (cx + 5, cy + b - 2), (cx + 6, cy + b), (cx - 6, cy + b + 1.6)],
                              '#2a95ea'))
    out.append(poly_shape([(cx - 3, cy - 18), (cx, cy - 21), (cx + 3, cy - 18), (cx + 3, cy - 12), (cx - 3, cy - 12)],
                          '#ffffff'))
    return out


legend_keys = [
    dict(type='rect', xref='paper', yref='paper', x0=sx(977), x1=sx(994), y0=sy(915), y1=sy(898),
         fillcolor='#00bfc4', line_width=0),
    dict(type='rect', xref='paper', yref='paper', x0=sx(977), x1=sx(994), y0=sy(933), y1=sy(917),
         fillcolor='#f8766d', line_width=0),
]

fig.update_layout(
    width=1052, height=1209, margin=dict(l=0, r=0, t=0, b=0), paper_bgcolor='white', plot_bgcolor='white',
    barmode='stack', bargap=0.1,
    font=dict(family='Liberation Sans'),
    xaxis=dict(domain=[sx(159), sx(959)], range=[-6.87, 145.8], tickvals=[0, 50, 100], showgrid=False, zeroline=False,
               showline=True, linecolor='#222222', linewidth=1.2, ticks='outside', ticklen=3, tickcolor='#333333',
               tickfont=dict(size=9.5, color='#4d4d4d'), ticklabelstandoff=-3, anchor='y'),
    yaxis=dict(domain=[sy(1128), sy(688)], type='category', categoryorder='array', categoryarray=countries,
               range=[19.55, -0.55], showgrid=True, gridcolor='#efefef', gridwidth=1.2, zeroline=False, showline=False,
               ticks='outside', ticklen=3, tickcolor='#333333', tickfont=dict(size=9.2, color='#4d4d4d'), anchor='x'),
    xaxis2=dict(domain=[0, 1], range=[-207.14, 210.3], visible=False, anchor='y2'),
    yaxis2=dict(domain=[sy(560), 1], range=[-100, 96.49], visible=False, anchor='x2'),
    shapes=legend_keys + logo(941, 443) + logo(880, 1078),
    annotations=[
        note('617', 85, 211, 24.5, '#222222', 'Liberation Serif', 'center'),
        note('1', 85, 337, 24.5, '#222222', 'Liberation Serif', 'center'),
        note('<b>A</b>', 529, 580, 21, '#222222', 'Liberation Serif', 'center'),
        note('<b>B</b>', 528, 1198, 21, '#222222', 'Liberation Serif', 'center'),
        note("Corresponding Author's Countries", 157, 668, 25.3, '#000000'),
        note('Countries', 5, 693, 14.4),
        note('N. of Documents', 157, 1152, 14.5),
        note('<i>SCP: Single Country Publications, MCP: Multiple Country Publications</i>', 410, 1168, 9.45, '#1a1aa8'),
        note('Collaboration', 974, 887, 11.5, '#111111'),
        note('SCP', 998, 907, 9.3, '#222222'),
        note('MCP', 998, 925, 9.3, '#222222'),
        note('<b>BIBLIOMETRIX</b>', 941, 437.5, 5, '#2c8be0', anchor='center'),
        note('<b>BIBLIOMETRIX</b>', 880, 1072.5, 5, '#2c8be0', anchor='center'),
    ],
)

fig.write_html("out.html", config=dict(displayModeBar=False),
               post_script="document.body.style.margin='0';document.body.style.overflow='hidden';")
